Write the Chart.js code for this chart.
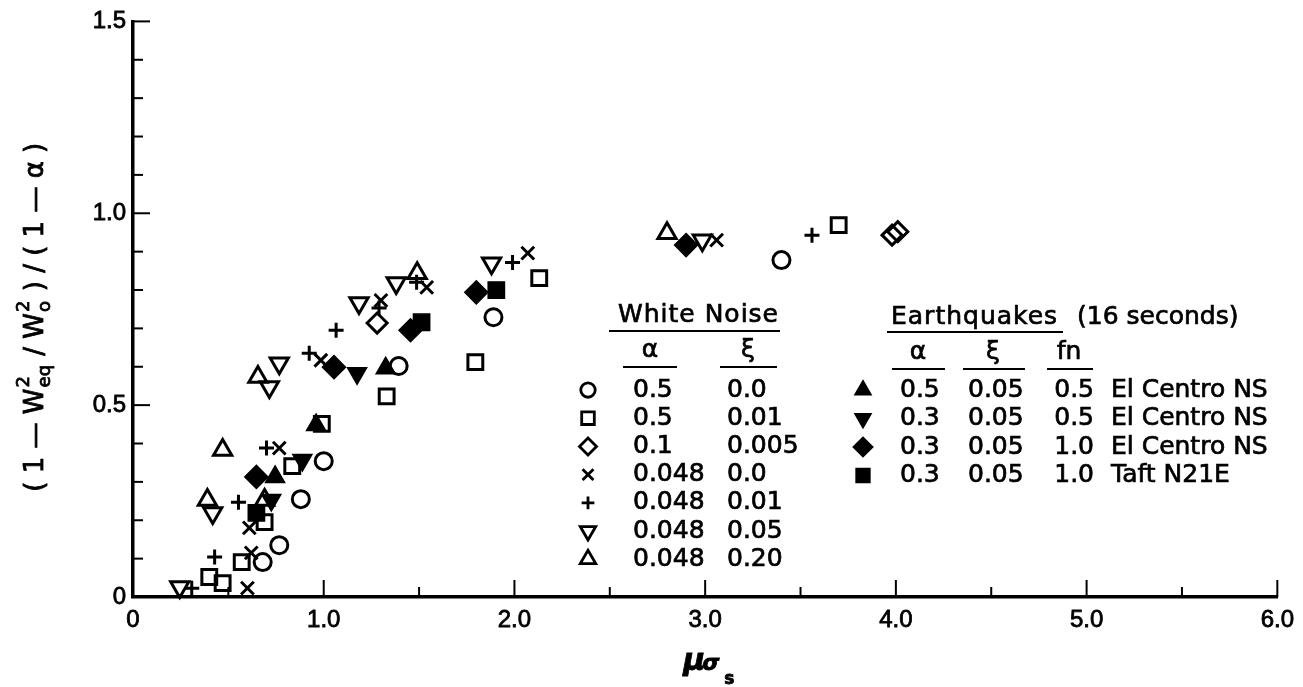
<!DOCTYPE html>
<html>
<head>
<meta charset="utf-8">
<script src="https://cdn.jsdelivr.net/npm/chart.js@4/dist/chart.umd.min.js"></script>
<style>
  html, body { margin: 0; padding: 0; background: #fff; }
  #caixa { width: 1303px; height: 687px; position: relative; }
</style>
</head>
<body>
<div id="caixa"><canvas id="grafico"></canvas></div>
<script>
// ---- dados lidos do ensaio: [mu_sigma_s, (1 - Weq²/Wo²)/(1 - alfa)] ----
// ruido branco
var wnCirculo = [[1.393, 0.602], [1.00, 0.354], [0.88, 0.255], [0.767, 0.135], [0.68, 0.091], [1.89, 0.729], [3.40, 0.878]];
var wnQuadrado = [[1.33, 0.523], [0.99, 0.451], [0.835, 0.341], [0.69, 0.195], [0.57, 0.091], [0.40, 0.052], [0.47, 0.036], [1.795, 0.612], [2.13, 0.831], [3.70, 0.969]];
var wnLosango = [[1.28, 0.714], [3.98, 0.943], [4.01, 0.952]];
var wnXis = [[0.985, 0.617], [0.767, 0.388], [0.61, 0.18], [0.62, 0.115], [0.60, 0.023], [1.30, 0.773], [1.54, 0.807], [2.07, 0.896], [3.06, 0.93]];
var wnMais = [[0.924, 0.635], [1.065, 0.695], [0.70, 0.388], [0.553, 0.247], [0.428, 0.104], [0.308, 0.023], [1.29, 0.753], [1.487, 0.82], [1.99, 0.872], [3.56, 0.943]];
var wnTriBaixo = [[0.767, 0.609], [0.715, 0.547], [0.418, 0.219], [0.245, 0.026], [1.185, 0.766], [1.38, 0.818], [1.88, 0.87], [2.985, 0.93]];
var wnTriCima = [[0.655, 0.573], [0.47, 0.383], [0.39, 0.253], [0.69, 0.253], [1.49, 0.844], [2.80, 0.948]];
// sismos (16 s)
var eqTriCima = [[1.325, 0.596], [0.96, 0.448], [0.745, 0.313]];
var eqTriBaixo = [[1.175, 0.583], [0.888, 0.357], [0.725, 0.253]];
var eqLosango = [[1.054, 0.599], [0.647, 0.313], [1.455, 0.695], [1.80, 0.794], [2.90, 0.917]];
var eqQuadrado = [[0.647, 0.219], [1.513, 0.716], [1.905, 0.80]];

// rotulos dos eixos
var xRotulos = ["0", "1.0", "2.0", "3.0", "4.0", "5.0", "6.0"];
var yRotulos = ["0", "0.5", "1.0", "1.5"];

// textos das legendas
var wnTitulo = "White Noise";
var wnColunas = ["α", "ξ"];
var wnLinhas = [["0.5", "0.0"], ["0.5", "0.01"], ["0.1", "0.005"], ["0.048", "0.0"], ["0.048", "0.01"], ["0.048", "0.05"], ["0.048", "0.20"]];
var eqTitulo = "Earthquakes";
var eqDuracao = "(16 seconds)";
var eqColunas = ["α", "ξ", "fn"];
var eqLinhas = [["0.5", "0.05", "0.5", "El Centro NS"], ["0.3", "0.05", "0.5", "El Centro NS"], ["0.3", "0.05", "1.0", "El Centro NS"], ["0.3", "0.05", "1.0", "Taft N21E"]];

var F = "'DejaVu Sans', 'Liberation Sans', sans-serif";
var FT = "'Liberation Sans', Arial, sans-serif";

// simbolos de cada serie (ordem = ordem das linhas das legendas)
var series = [
  { pts: wnCirculo, forma: "circle", r: 8.5 },
  { pts: wnQuadrado, forma: "rect", r: 10.5 },
  { pts: wnLosango, forma: "rectRot", r: 10 },
  { pts: wnXis, forma: "crossRot", r: 9 },
  { pts: wnMais, forma: "cross", r: 7.5 },
  { pts: wnTriBaixo, forma: "triangle", r: 10.5, rot: 180 },
  { pts: wnTriCima, forma: "triangle", r: 10.5 },
  { pts: eqTriCima, forma: "triangle", r: 11, cheio: true },
  { pts: eqTriBaixo, forma: "triangle", r: 11, rot: 180, cheio: true },
  { pts: eqLosango, forma: "rectRot", r: 11.5, cheio: true },
  { pts: eqQuadrado, forma: "rect", r: 11.5, cheio: true }
];

function conjunto(s) {
  return {
    data: s.pts.map(function (p) { return { x: p[0], y: p[1] }; }),
    showLine: false, clip: false,
    pointStyle: s.forma, pointRadius: s.r, pointHoverRadius: s.r, pointRotation: s.rot || 0,
    pointBorderColor: "#000", pointBorderWidth: s.cheio ? 1.5 : 3,
    pointBackgroundColor: s.cheio ? "#000" : "rgba(0,0,0,0)"
  };
}

function simbolo(ctx, s, x, y) {
  if (!Chart.helpers || !Chart.helpers.drawPoint) return;
  ctx.save();
  ctx.strokeStyle = "#000";
  ctx.fillStyle = s.cheio ? "#000" : "rgba(0,0,0,0)";
  ctx.lineWidth = s.cheio ? 1.5 : 2.8;
  Chart.helpers.drawPoint(ctx, { pointStyle: s.forma, radius: s.r * 0.85, rotation: s.rot || 0, borderWidth: ctx.lineWidth }, x, y);
  ctx.restore();
}

function sublinha(ctx, x0, x1, y) {
  ctx.beginPath(); ctx.moveTo(x0, y); ctx.lineTo(x1, y); ctx.stroke();
}

// texto com traço um pouco mais grosso (letreiro)
function escreve(ctx, t, x, y) {
  ctx.fillText(t, x, y);
  ctx.strokeText(t, x, y);
}

// marcas dos eixos voltadas para dentro
var marcasDentro = {
  id: "marcasDentro",
  afterDraw: function (c) {
    var ctx = c.ctx, xa = c.scales.x, ya = c.scales.y, a = c.chartArea;
    ctx.save();
    ctx.strokeStyle = "#000"; ctx.lineWidth = 2;
    xa.ticks.forEach(function (t) {
      if (t.value === 0) return;
      var px = xa.getPixelForValue(t.value);
      var maior = Math.abs(t.value - Math.round(t.value)) < 1e-6;
      ctx.beginPath(); ctx.moveTo(px, a.bottom); ctx.lineTo(px, a.bottom - (maior ? 17 : 10)); ctx.stroke();
    });
    ya.ticks.forEach(function (t) {
      var k = Math.round(t.value * 10);
      if (k === 0) return;
      var py = ya.getPixelForValue(t.value);
      ctx.beginPath(); ctx.moveTo(a.left, py); ctx.lineTo(a.left + (k % 5 === 0 ? 17 : 10), py); ctx.stroke();
    });
    ctx.restore();
  }
};

// legendas desenhadas dentro da area do grafico
var legendas = {
  id: "legendas",
  afterDraw: function (c) {
    var ctx = c.ctx, i, passo = 28.2;
    ctx.save();
    ctx.fillStyle = "#000"; ctx.strokeStyle = "#000";
    ctx.textBaseline = "middle"; ctx.textAlign = "left";
    ctx.font = "25px " + F;
    ctx.lineWidth = 0.7;

    // ruido branco
    ctx.letterSpacing = "1px";
    escreve(ctx, wnTitulo, 618, 315);
    escreve(ctx, eqTitulo, 891, 317);
    ctx.letterSpacing = "0px";
    escreve(ctx, eqDuracao, 1077, 317);
    ctx.textAlign = "center";
    escreve(ctx, wnColunas[0], 650, 350);
    escreve(ctx, wnColunas[1], 748, 350);
    ctx.textAlign = "left";
    for (i = 0; i < wnLinhas.length; i++) {
      var y = 390 + i * passo;
      escreve(ctx, wnLinhas[i][0], 633, y);
      escreve(ctx, wnLinhas[i][1], 727, y);
    }

    // sismos
    ctx.textAlign = "center";
    escreve(ctx, eqColunas[0], 918, 352);
    escreve(ctx, eqColunas[1], 993, 352);
    escreve(ctx, eqColunas[2], 1069, 352);
    for (i = 0; i < eqLinhas.length; i++) {
      var ye = 390 + i * 28.5;
      ctx.textAlign = "left";
      escreve(ctx, eqLinhas[i][0], 900, ye);
      escreve(ctx, eqLinhas[i][1], 968, ye);
      ctx.textAlign = "right";
      escreve(ctx, eqLinhas[i][2], 1094, ye);
      ctx.textAlign = "left";
      escreve(ctx, eqLinhas[i][3], 1111, ye);
    }

    // sublinhados
    ctx.lineWidth = 2.2;
    sublinha(ctx, 609, 780, 331);
    sublinha(ctx, 623, 677, 367);
    sublinha(ctx, 720, 777, 367);
    sublinha(ctx, 887, 1063, 332);
    sublinha(ctx, 892, 945, 369);
    sublinha(ctx, 963, 1025, 369);
    sublinha(ctx, 1047, 1093, 369);

    // simbolos
    for (i = 0; i < wnLinhas.length; i++) simbolo(ctx, series[i], 588, 390 + i * passo);
    for (i = 0; i < eqLinhas.length; i++) simbolo(ctx, series[7 + i], 863, 390 + i * 28.5);
    ctx.restore();
  }
};

// titulos dos eixos (com indices e expoentes)
var titulos = {
  id: "titulos",
  afterDraw: function (c) {
    var ctx = c.ctx;
    ctx.save();
    ctx.fillStyle = "#000"; ctx.strokeStyle = "#000"; ctx.lineWidth = 0.8;
    ctx.textBaseline = "alphabetic"; ctx.textAlign = "left";

    // eixo y: (1 — W²eq / W²o) / (1 — α)
    var g = "26px " + F, p = "18px " + F;
    var pecas = [
      { t: "( 1 — W" },
      { sup: "2", sub: "eq" },
      { t: " / W" },
      { sup: "2", sub: "o" },
      { t: " ) / ( 1 — α )" }
    ];
    var total = 0;
    pecas.forEach(function (q) {
      if (q.t) { ctx.font = g; q.w = ctx.measureText(q.t).width; }
      else { ctx.font = p; q.w = Math.max(ctx.measureText(q.sup).width, ctx.measureText(q.sub).width) + 2; }
      total += q.w;
    });
    ctx.translate(43, c.chartArea.top + (c.chartArea.bottom - c.chartArea.top) / 2 + 8);
    ctx.rotate(-Math.PI / 2);
    var x = -total / 2;
    pecas.forEach(function (q) {
      if (q.t) { ctx.font = g; escreve(ctx, q.t, x, 0); }
      else { ctx.font = p; escreve(ctx, q.sup, x + 1, -14); escreve(ctx, q.sub, x + 1, 7); }
      x += q.w;
    });
    ctx.setTransform(1, 0, 0, 1, 0, 0);

    // eixo x: mu sigma s
    var cx = (c.chartArea.left + c.chartArea.right) / 2;
    ctx.font = "bold italic 30px " + F;
    escreve(ctx, "μ", cx - 22, 670);
    ctx.font = "bold italic 22px " + F;
    escreve(ctx, "σ", cx - 3, 670);
    ctx.font = "bold 17px " + F;
    escreve(ctx, "s", cx + 19, 684);
    ctx.restore();
  }
};

new Chart(document.getElementById("grafico"), {
  type: "scatter",
  data: { datasets: series.map(conjunto) },
  plugins: [marcasDentro, legendas, titulos],
  options: {
    responsive: true, maintainAspectRatio: false, animation: false, events: [],
    layout: { padding: { top: 21, right: 20, left: 0, bottom: 0 } },
    plugins: { legend: { display: false }, tooltip: { enabled: false } },
    scales: {
      x: {
        type: "linear", min: 0, max: 6,
        afterFit: function (s) { s.height = 90; },
        grid: { display: false, drawTicks: false },
        border: { display: true, color: "#000", width: 3.5 },
        ticks: {
          stepSize: 0.5, autoSkip: false, maxRotation: 0, padding: 9, color: "#000",
          textStrokeColor: "#000", textStrokeWidth: 0.8,
          font: { family: FT, size: 24 },
          callback: function (v) { var k = Math.round(v * 2); return k % 2 === 0 ? xRotulos[k / 2] : ""; }
        }
      },
      y: {
        type: "linear", min: 0, max: 1.5,
        afterFit: function (s) { s.width = 133; },
        grid: { display: false, drawTicks: false },
        border: { display: true, color: "#000", width: 3.5 },
        ticks: {
          stepSize: 0.1, autoSkip: false, padding: 7, color: "#000",
          textStrokeColor: "#000", textStrokeWidth: 0.8,
          font: { family: FT, size: 24 },
          callback: function (v) { var k = Math.round(v * 10); return k % 5 === 0 ? yRotulos[k / 5] : ""; }
        }
      }
    }
  }
});
</script>
</body>
</html>
